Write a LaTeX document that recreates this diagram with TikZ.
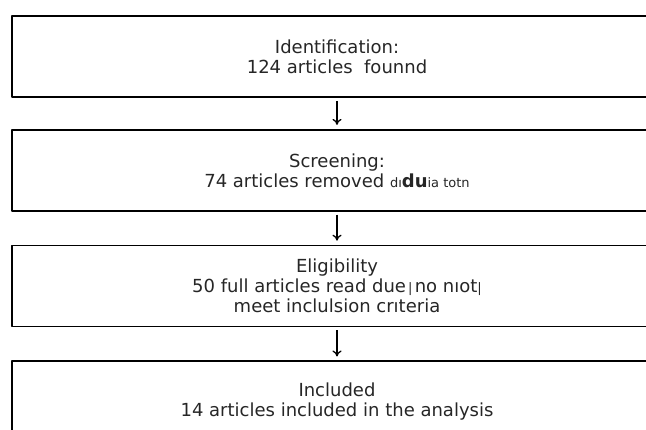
\documentclass[tikz,border=0pt]{standalone}
\usepackage{fontspec}
\setmainfont{DejaVu Sans}
\usetikzlibrary{positioning,arrows.meta}
\newcommand{\smtxt}[1]{{\fontsize{13}{15}\selectfont #1}}
\tikzset{
	stagebox/.style={draw,line width=1.8pt,minimum width=650pt,minimum height=81pt,
		inner sep=0pt,align=center,font=\fontsize{18}{20}\selectfont,text=black!85},
	flowarrow/.style={-{To[length=6pt,width=9pt,line width=1.3pt]},line width=1.6pt,shorten <=3pt,shorten >=4pt}
}
\begin{document}
\begin{tikzpicture}[x=1pt,y=1pt,line join=round]
	\clip (0,0) rectangle (646,429);
	%Các bước
	\node[stagebox] (ident) at (337,372.5) {Identification:\\124 articles\ \ founnd};
	\node[stagebox,below=31pt of ident] (screen) {Screening:\\74 articles removed \smtxt{dı}\textbf{du}\smtxt{ia totn}};
	\node[stagebox,below=33pt of screen] (elig) {Eligibility\\50 full articles read due\smtxt{\,|\,}no nıot\smtxt{|}\\meet inclulsion crıteria};
	\node[stagebox,below=33pt of elig] (incl) {Included\\14 articles included in the analysis};
	%Mũi tên
	\draw[flowarrow] (ident) -- (screen);
	\draw[flowarrow] (screen) -- (elig);
	\draw[flowarrow] (elig) -- (incl);
\end{tikzpicture}
\end{document}
